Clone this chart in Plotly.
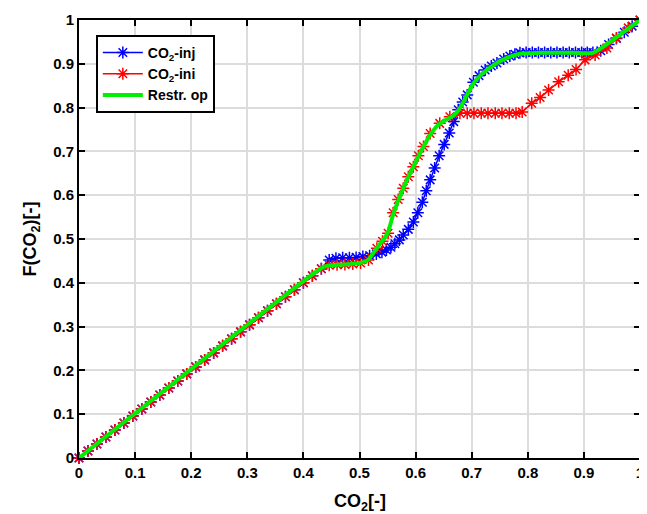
import plotly.graph_objects as go

# CO2-inj (blue)
inj_x = [0, 0.016, 0.032, 0.048, 0.064, 0.08, 0.096, 0.112, 0.128, 0.144, 0.16, 0.176, 0.192, 0.208,
         0.224, 0.24, 0.256, 0.272, 0.288, 0.304, 0.32, 0.336, 0.352, 0.368, 0.384, 0.4, 0.416, 0.432,
         0.446, 0.458, 0.47, 0.482, 0.494, 0.506, 0.518, 0.53, 0.54, 0.548, 0.556, 0.563, 0.571, 0.578,
         0.587, 0.596, 0.604, 0.612, 0.619, 0.626, 0.634, 0.642, 0.651, 0.66, 0.668, 0.676, 0.684, 0.692,
         0.703, 0.713, 0.724, 0.735, 0.745, 0.757, 0.768, 0.777, 0.786, 0.797, 0.808, 0.819, 0.83, 0.841,
         0.852, 0.863, 0.874, 0.885, 0.896, 0.906, 0.916, 0.93, 0.944, 0.958, 0.972, 0.986, 1.0]
inj_y = [0, 0.016, 0.032, 0.048, 0.064, 0.08, 0.096, 0.112, 0.128, 0.144, 0.16, 0.176, 0.192, 0.208,
         0.224, 0.24, 0.256, 0.272, 0.288, 0.304, 0.32, 0.336, 0.352, 0.368, 0.384, 0.4, 0.416, 0.432,
         0.452, 0.456, 0.457, 0.457, 0.458, 0.46, 0.462, 0.466, 0.47, 0.475, 0.481, 0.489, 0.498, 0.509,
         0.522, 0.539, 0.56, 0.584, 0.61, 0.635, 0.662, 0.69, 0.716, 0.742, 0.768, 0.795, 0.813, 0.829,
         0.858, 0.873, 0.886, 0.895, 0.902, 0.911, 0.918, 0.922, 0.925, 0.926, 0.926, 0.926, 0.926, 0.926,
         0.926, 0.926, 0.926, 0.926, 0.926, 0.926, 0.926, 0.93, 0.944, 0.958, 0.972, 0.986, 1.0]

# CO2-ini (red)
ini_x = [0, 0.016, 0.032, 0.048, 0.064, 0.08, 0.096, 0.112, 0.128, 0.144, 0.16, 0.176, 0.192, 0.208,
         0.224, 0.24, 0.256, 0.272, 0.288, 0.304, 0.32, 0.336, 0.352, 0.368, 0.384, 0.4, 0.416, 0.432,
         0.446, 0.46, 0.474, 0.488, 0.502, 0.516, 0.531, 0.541, 0.551, 0.56, 0.569, 0.578, 0.587, 0.596,
         0.605, 0.614, 0.626, 0.643, 0.661, 0.679, 0.692, 0.704, 0.717, 0.729, 0.742, 0.754, 0.767, 0.779,
         0.79, 0.807, 0.822, 0.837, 0.855, 0.872, 0.886, 0.902, 0.92, 0.941, 0.958, 0.979, 1.0]
ini_y = [0, 0.016, 0.032, 0.048, 0.064, 0.08, 0.096, 0.112, 0.128, 0.144, 0.16, 0.176, 0.192, 0.208,
         0.224, 0.24, 0.256, 0.272, 0.288, 0.304, 0.32, 0.336, 0.352, 0.368, 0.384, 0.4, 0.416, 0.432,
         0.44, 0.441, 0.442, 0.443, 0.445, 0.452, 0.479, 0.495, 0.513, 0.56, 0.59, 0.616, 0.642, 0.665,
         0.69, 0.711, 0.741, 0.764, 0.779, 0.787, 0.787, 0.787, 0.787, 0.787, 0.787, 0.787, 0.787, 0.787,
         0.79, 0.81, 0.823, 0.84, 0.859, 0.874, 0.887, 0.909, 0.92, 0.936, 0.959, 0.982, 1.0]

# Restricted operator (green)
op_x = [0, 0.43, 0.44, 0.46, 0.5, 0.515, 0.53, 0.55, 0.56, 0.578, 0.596, 0.614, 0.626, 0.64, 0.655,
        0.668, 0.678, 0.69, 0.703, 0.715, 0.727, 0.745, 0.762, 0.786, 0.82, 0.88, 0.916, 0.93, 1.0]
op_y = [0, 0.432, 0.438, 0.441, 0.445, 0.452, 0.478, 0.513, 0.556, 0.616, 0.665, 0.711, 0.738, 0.76, 0.773,
        0.782, 0.797, 0.825, 0.855, 0.873, 0.886, 0.902, 0.913, 0.923, 0.925, 0.925, 0.925, 0.935, 1.0]

tick_vals = [0, 0.1, 0.2, 0.3, 0.4, 0.5, 0.6, 0.7, 0.8, 0.9, 1]
tick_text = ["0", "0.1", "0.2", "0.3", "0.4", "0.5", "0.6", "0.7", "0.8", "0.9", "1"]

FONT = "Liberation Sans, Arial, Helvetica, sans-serif"

fig = go.Figure()
fig.add_trace(go.Scatter(
    x=inj_x, y=inj_y, mode="lines+markers", name="<b>CO<sub>2</sub>-inj</b>",
    line=dict(color="#0000ff", width=1.5),
    marker=dict(symbol="asterisk-open", size=10, color="#0000ff", line=dict(color="#0000ff", width=1.5)),
    cliponaxis=False,
))
fig.add_trace(go.Scatter(
    x=ini_x, y=ini_y, mode="lines+markers", name="<b>CO<sub>2</sub>-ini</b>",
    line=dict(color="#ff0000", width=1.5),
    marker=dict(symbol="asterisk-open", size=10, color="#ff0000", line=dict(color="#ff0000", width=1.5)),
    cliponaxis=False,
))
fig.add_trace(go.Scatter(
    x=op_x, y=op_y, mode="lines", name="<b>Restr. op</b>",
    line=dict(color="#00ee00", width=4, shape="spline", smoothing=0.6),
    cliponaxis=False,
))

axis_common = dict(
    range=[0, 1], tickvals=tick_vals, ticktext=["<b>" + t + "</b>" for t in tick_text],
    showline=True, linecolor="black", linewidth=2, mirror="ticks",
    ticks="inside", ticklen=6, tickwidth=2, tickcolor="black",
    showgrid=True, gridcolor="#dcdcdc", gridwidth=2, zeroline=False,
    automargin=False,
    tickfont=dict(family=FONT, size=15, color="black"),
)

fig.update_layout(
    width=639, height=506,
    margin=dict(l=71, r=7, t=12, b=56, autoexpand=False),
    paper_bgcolor="white", plot_bgcolor="white",
    font=dict(family=FONT, color="black"),
    xaxis=dict(**axis_common),
    yaxis=dict(**axis_common, title=dict(text="<b>F(CO<sub>2</sub>)[-]</b>", font=dict(size=18), standoff=12)),
    legend=dict(
        x=0.03, y=0.966, xanchor="left", yanchor="top",
        bgcolor="white", bordercolor="black", borderwidth=2,
        font=dict(family=FONT, size=14, color="black"),
        tracegroupgap=0, itemwidth=40,
    ),
    showlegend=True,
    annotations=[dict(
        text="<b>CO<sub>2</sub>[-]</b>", xref="paper", yref="paper", x=0.5, y=0,
        xanchor="center", yanchor="middle", yshift=-44, showarrow=False,
        font=dict(family=FONT, size=18, color="black"),
    )],
)

fig.write_html("out.html")
